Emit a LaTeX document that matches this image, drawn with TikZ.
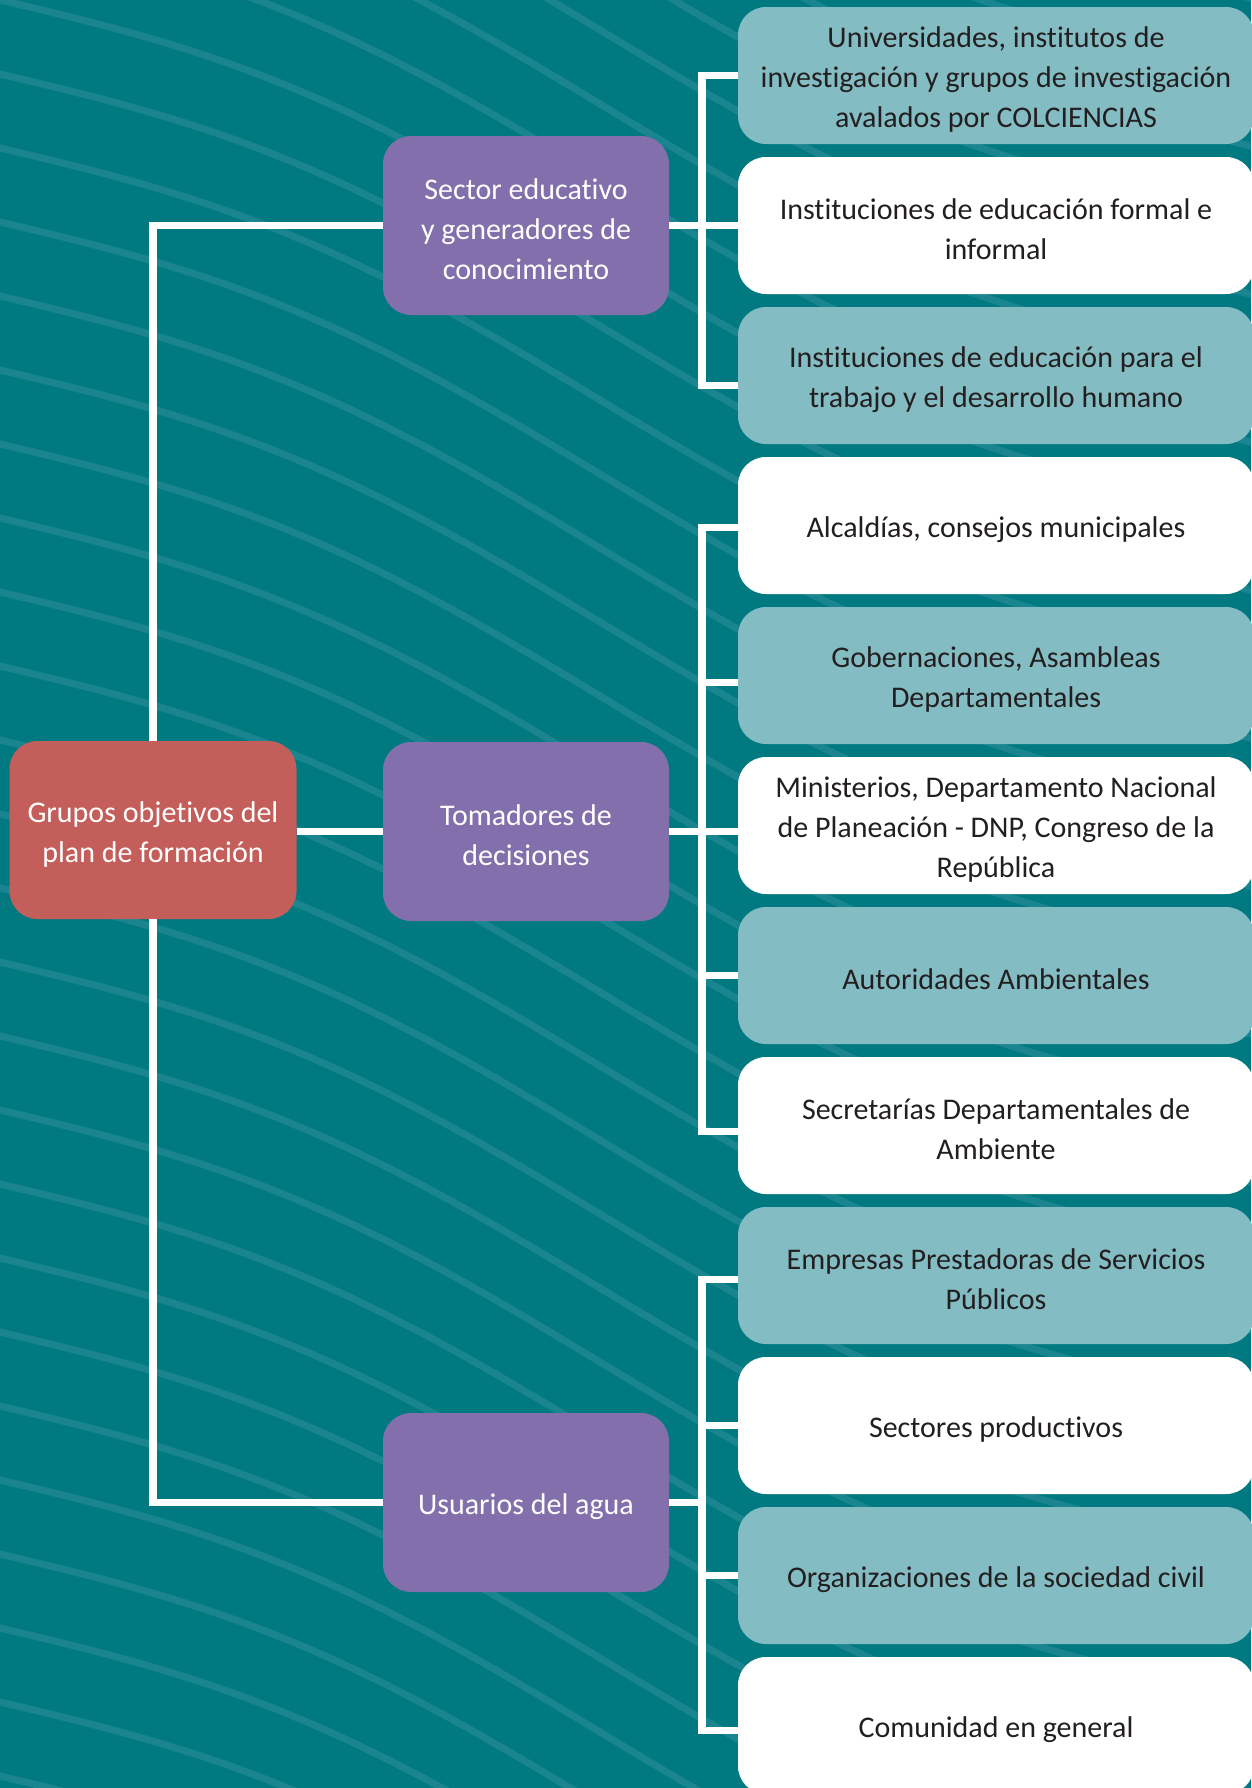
\documentclass[tikz,border=0pt]{standalone}
\usepackage{fontspec}
\setmainfont[Ligatures=NoCommon]{Carlito}
\usetikzlibrary{calc}
\definecolor{bgteal}{HTML}{007A80}
\definecolor{stripec}{HTML}{1A858E}
\definecolor{lteal}{HTML}{83BCC2}
\definecolor{purp}{HTML}{836FAB}
\definecolor{rootred}{HTML}{C45E5B}
\definecolor{darktext}{HTML}{231F20}
\tikzset{
  basebox/.style={rounded corners=28pt, inner sep=0pt},
  rootbox/.style={basebox, fill=rootred, minimum width=287pt, minimum height=178pt},
  midbox/.style={basebox, fill=purp, minimum width=286pt, minimum height=179pt},
  leafbox/.style={basebox, minimum width=516pt, minimum height=137pt},
  leafteal/.style={leafbox, fill=lteal},
  leafwhite/.style={leafbox, fill=white},
  boxtext/.style={inner sep=0pt, align=center, font=\fontsize{30}{40}\selectfont},
  lighttext/.style={boxtext, text=white},
  darktxt/.style={boxtext, text=darktext},
  conn/.style={draw=white, line width=7.5pt, line join=miter},
  stripe/.style={draw=stripec, line width=7pt}
}
\newcommand\boxnode[5]{%
  \node[#2] (#1) at (#3) {};
  \node[#4] (#1t) at ([yshift=-4pt]#1.center) {#5};}
\begin{document}
\begin{tikzpicture}[x=1pt,y=-1pt]
\useasboundingbox (0,0) rectangle (1251,1788);
\fill[bgteal] (0,0) rectangle (1251,1788);
\begin{scope}
\clip (0,0) rectangle (1251,1788);
\foreach \k in {-8,...,25}{
  \draw[stripe] plot[domain=-20:1270, samples=36, smooth] (\x, {\k*74 + 0.42*\x - 35*sin(\x*0.3)});
}
\end{scope}

\boxnode{root}{rootbox}{153,830}{lighttext}{Grupos objetivos del\\plan de formación}
\boxnode{p1}{midbox}{526,225.5}{lighttext}{Sector educativo\\y generadores de\\conocimiento}
\boxnode{p2}{midbox}{526,831.5}{lighttext}{Tomadores de\\decisiones}
\boxnode{p3}{midbox}{526,1502.5}{lighttext}{Usuarios del agua}

\boxnode{c1}{leafteal}{996,75.5}{darktxt}{Universidades, institutos de\\investigación y grupos de investigación\\avalados por COLCIENCIAS}
\boxnode{c2}{leafwhite}{996,225.5}{darktxt}{Instituciones de educación formal e\\informal}
\boxnode{c3}{leafteal}{996,375.5}{darktxt}{Instituciones de educación para el\\trabajo y el desarrollo humano}
\boxnode{c4}{leafwhite}{996,525.5}{darktxt}{Alcaldías, consejos municipales}
\boxnode{c5}{leafteal}{996,675.5}{darktxt}{Gobernaciones, Asambleas\\Departamentales}
\boxnode{c6}{leafwhite}{996,825.5}{darktxt}{Ministerios, Departamento Nacional\\de Planeación - DNP, Congreso de la\\República}
\boxnode{c7}{leafteal}{996,975.5}{darktxt}{Autoridades Ambientales}
\boxnode{c8}{leafwhite}{996,1125.5}{darktxt}{Secretarías Departamentales de\\Ambiente}
\boxnode{c9}{leafteal}{996,1275.5}{darktxt}{Empresas Prestadoras de Servicios\\Públicos}
\boxnode{c10}{leafwhite}{996,1425.5}{darktxt}{Sectores productivos}
\boxnode{c11}{leafteal}{996,1575.5}{darktxt}{Organizaciones de la sociedad civil}
\boxnode{c12}{leafwhite}{996,1725.5}{darktxt}{Comunidad en general}

\coordinate (bar) at (702,0);

% trunk
\draw[conn] (root.north) |- (p1.west);
\draw[conn] (root.south) |- (p3.west);
\draw[conn] (p2.west -| root.east) -- (p2.west);

% group 1
\draw[conn] (p1.east) -- (p1.east -| bar);
\draw[conn] (c1.west) -- (c1.west -| bar) -- ([yshift=-10pt]c3.west -| bar) -- ([yshift=-10pt]c3.west);
\draw[conn] (c2.west -| bar) -- (c2.west);

% group 2
\draw[conn] (p2.east) -- (p2.east -| bar);
\draw[conn] ([yshift=-2pt]c4.west) -- ([yshift=-2pt]c4.west -| bar) -- ([yshift=-6pt]c8.west -| bar) -- ([yshift=-6pt]c8.west);
\draw[conn] ([yshift=-7pt]c5.west -| bar) -- ([yshift=-7pt]c5.west);
\draw[conn] ([yshift=-6pt]c6.west -| bar) -- ([yshift=-6pt]c6.west);
\draw[conn] (c7.west -| bar) -- (c7.west);

% group 3
\draw[conn] (p3.east) -- (p3.east -| bar);
\draw[conn] ([yshift=-4pt]c9.west) -- ([yshift=-4pt]c9.west -| bar) -- ([yshift=-5pt]c12.west -| bar) -- ([yshift=-5pt]c12.west);
\draw[conn] (c10.west -| bar) -- (c10.west);
\draw[conn] (c11.west -| bar) -- (c11.west);
\end{tikzpicture}
\end{document}
